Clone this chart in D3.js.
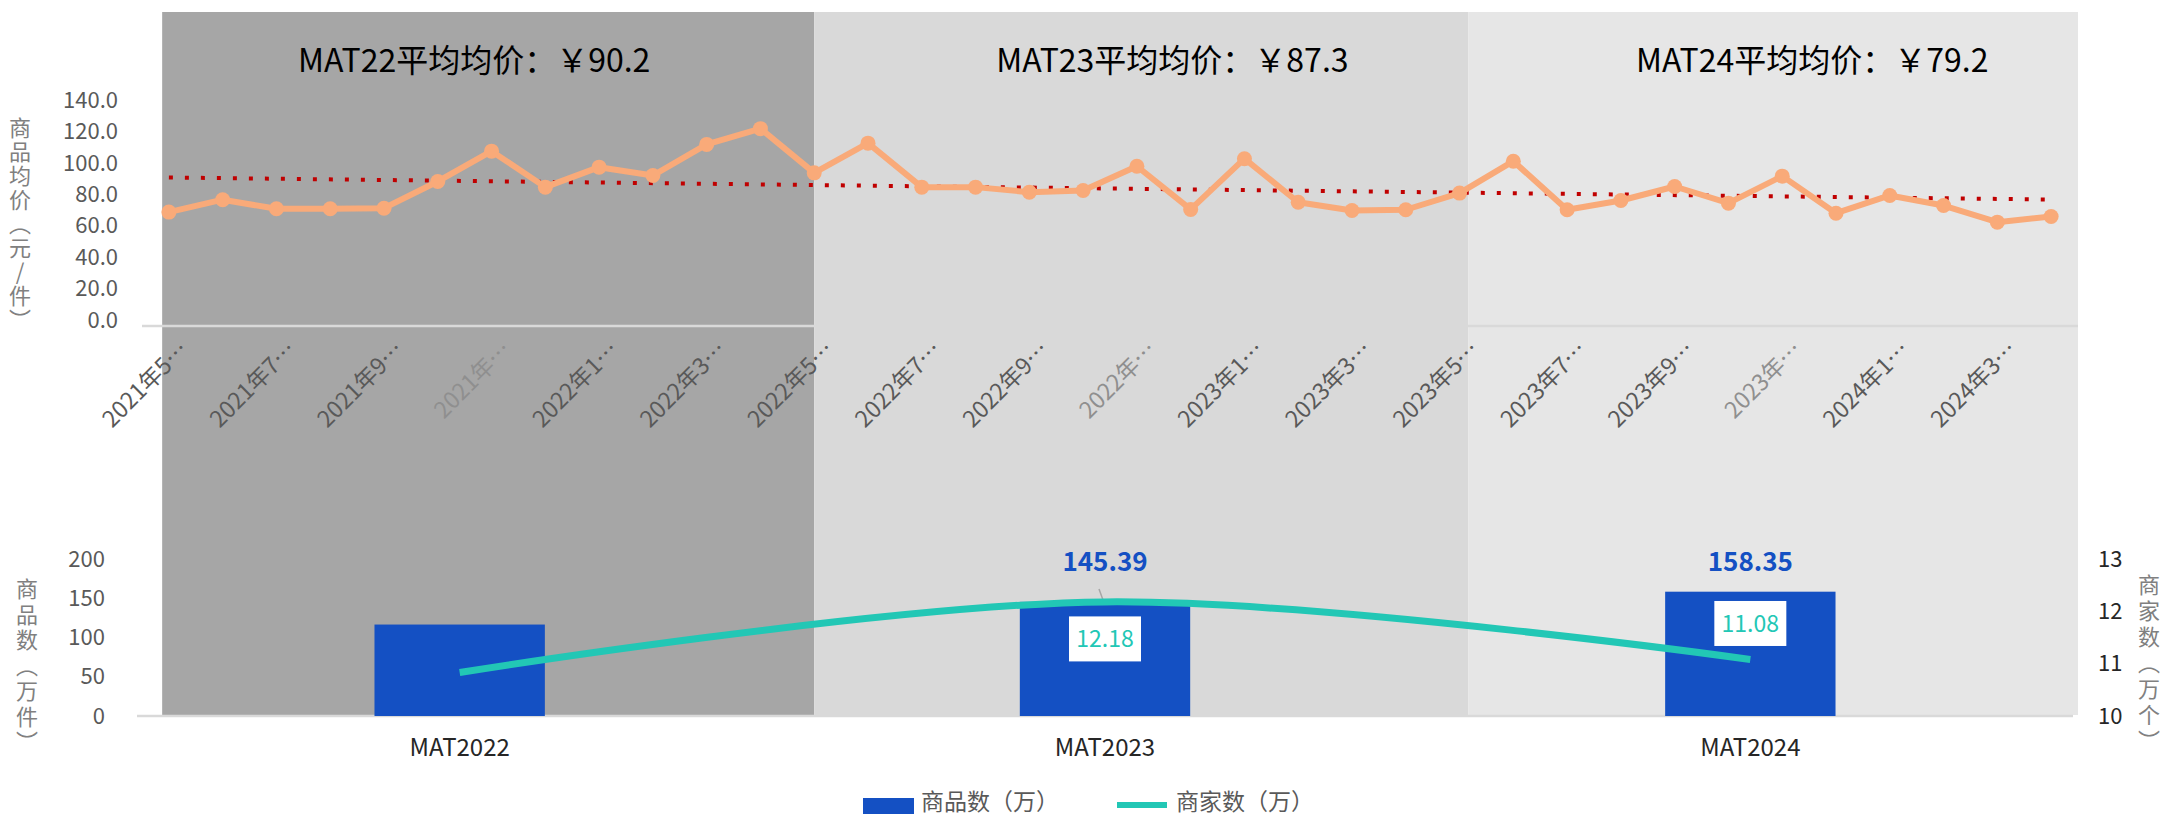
<!DOCTYPE html>
<html><head><meta charset="utf-8">
<script src="https://cdn.jsdelivr.net/npm/d3@7"></script>
<style>
html,body{margin:0;padding:0;background:#fff;}
svg{display:block;font-family:"Noto Sans CJK SC","Noto Sans",sans-serif;}
.vt{writing-mode:vertical-rl;text-orientation:upright;font-feature-settings:"vert" 0,"vrt2" 0;}
</style></head>
<body>
<svg id="c" width="2164" height="818"></svg>
<script>
// ---------- data ----------
const months = ["2021年5月","2021年6月","2021年7月","2021年8月","2021年9月","2021年10月","2021年11月","2021年12月","2022年1月","2022年2月","2022年3月","2022年4月",
"2022年5月","2022年6月","2022年7月","2022年8月","2022年9月","2022年10月","2022年11月","2022年12月","2023年1月","2023年2月","2023年3月","2023年4月",
"2023年5月","2023年6月","2023年7月","2023年8月","2023年9月","2023年10月","2023年11月","2023年12月","2024年1月","2024年2月","2024年3月","2024年4月"];
const avgPrice = [71.2,79.1,73.3,73.3,73.7,90.7,110.0,87.1,99.8,94.5,114.3,124.3,
96.2,115.1,87.1,87.1,83.9,85.0,100.4,72.9,105.2,77.5,72.2,72.7,
83.3,103.6,72.7,78.6,87.5,76.9,94.1,70.5,81.8,75.4,64.8,68.4];
const tickLabels = ["2021年5…","2021年7…","2021年9…","2021年…","2022年1…","2022年3…","2022年5…","2022年7…","2022年9…","2022年…","2023年1…","2023年3…","2023年5…","2023年7…","2023年9…","2023年…","2024年1…","2024年3…"];
const priceTicks = [0,20,40,60,80,100,120,140];
const periods = ["MAT22","MAT23","MAT24"];
const periodAvg = [90.2,87.3,79.2];
const periodStart = [0,12,24];
const cats = ["MAT2022","MAT2023","MAT2024"];
const products = [116.5,145.39,158.35];
const merchants = [10.83,12.18,11.08];
const productLabels = [null,"145.39","158.35"];
const merchantLabels = [null,"12.18","11.08"];
const leftTicks = [0,50,100,150,200];
const rightTicks = [10,11,12,13];

// ---------- styles ----------
const shadeColors = ["#A6A6A6","#D9D9D9","#E6E6E6"];
const titleDx = [-14,31,39];
const boxDy = [0,37,-36];
const orange = "#F9AA79", red = "#C00000", blue = "#1450C3", teal = "#22C7B5";

const svg = d3.select("#c");
svg.append("rect").attr("width",2164).attr("height",818).attr("fill","#fff");

// scales
const x = d3.scaleBand().domain(months).range([142,2078]).padding(0);
const xc = d => x(d) + x.bandwidth()/2;
const y = d3.scaleLinear().domain([0,140]).range([324,104]);
const xb = d3.scaleBand().domain(cats).range([137,2073]).padding(0);
const xbc = d => xb(d) + xb.bandwidth()/2;
const yL = d3.scaleLinear().domain([0,200]).range([716,559]);
const yR = d3.scaleLinear().domain([10,13]).range([716,559]);

// shading
const bw = x.bandwidth();
const edges = [xc(months[0]) - bw/8, xc(months[12]), xc(months[24]) + bw/6, xc(months[35]) + bw/2];
periods.forEach((p,i)=>{
  const x0 = edges[i], x1 = edges[i+1];
  svg.append("rect").attr("x",x0).attr("y",12).attr("width",x1-x0).attr("height",703).attr("fill",shadeColors[i]);
  svg.append("text").attr("x",(x0+x1)/2+titleDx[i]).attr("y",72).attr("text-anchor","middle")
    .attr("font-size",32).attr("fill","#000").text(`${p}平均均价：￥${periodAvg[i]}`);
});

// top axis line
svg.append("line").attr("x1",142).attr("x2",2078).attr("y1",y(0)+2).attr("y2",y(0)+2)
  .attr("stroke","#D9D9D9").attr("stroke-width",2.5);

// top y ticks
svg.append("g").selectAll("text").data(priceTicks).join("text")
  .attr("x",118).attr("y",d=>y(d)-4).attr("dy","0.35em").attr("text-anchor","end")
  .attr("font-size",22).attr("fill","#595959").text(d=>d.toFixed(1));

// vertical axis titles
function vtitle(str, cx, cy, spacing){
  svg.append("text").attr("class","vt").attr("x",cx).attr("y",cy).attr("text-anchor","middle")
    .attr("font-size",22).attr("letter-spacing",spacing).attr("fill","#808080").text(str);
}
vtitle("商品均价（元/件）",20,225,2);
vtitle("商品数（万件）",27,667,3.5);
vtitle("商家数（万个）",2149,665,4);

// x tick labels
svg.append("g").selectAll("text").data(tickLabels).join("text")
  .attr("transform",(d,i)=>`translate(${xc(months[i*2])+21},351) rotate(-45)`)
  .attr("text-anchor","end").attr("font-size",23)
  .attr("fill",d=>d.length<7?"#8F8F8F":"#595959").text(d=>d);

// trendline (least squares)
const n = avgPrice.length, mx = (n-1)/2, my = d3.mean(avgPrice);
let sxy=0,sxx=0; avgPrice.forEach((v,i)=>{sxy+=(i-mx)*(v-my);sxx+=(i-mx)*(i-mx);});
const slope = sxy/sxx, icpt = my - slope*mx;
svg.append("line").attr("x1",xc(months[0])).attr("x2",xc(months[n-1]))
  .attr("y1",y(icpt)).attr("y2",y(icpt+slope*(n-1)))
  .attr("stroke",red).attr("stroke-width",4).attr("stroke-dasharray","4 12");

// price line
svg.append("path").datum(avgPrice)
  .attr("d",d3.line().x((d,i)=>xc(months[i])).y(d=>y(d)))
  .attr("fill","none").attr("stroke",orange).attr("stroke-width",6).attr("stroke-linejoin","round");
svg.append("g").selectAll("circle").data(avgPrice).join("circle")
  .attr("cx",(d,i)=>xc(months[i])).attr("cy",d=>y(d)).attr("r",7.5).attr("fill",orange);

// bottom axis
svg.append("line").attr("x1",137).attr("x2",2073).attr("y1",716).attr("y2",716)
  .attr("stroke","#D9D9D9").attr("stroke-width",2.5);
svg.append("g").selectAll("text").data(leftTicks).join("text")
  .attr("x",105).attr("y",d=>yL(d)).attr("dy","0.35em").attr("text-anchor","end")
  .attr("font-size",22).attr("fill","#595959").text(d=>d);
svg.append("g").selectAll("text").data(rightTicks).join("text")
  .attr("x",2098).attr("y",d=>yR(d)).attr("dy","0.35em").attr("text-anchor","start")
  .attr("font-size",22).attr("fill","#262626").text(d=>d);
svg.append("g").selectAll("text").data(cats).join("text")
  .attr("x",d=>xbc(d)).attr("y",748).attr("dy","0.35em").attr("text-anchor","middle")
  .attr("font-size",24).attr("fill","#262626").text(d=>d);

// bars
const barW = xb.bandwidth()*0.264;
svg.append("g").selectAll("rect").data(products).join("rect")
  .attr("x",(d,i)=>xbc(cats[i])-barW/2).attr("width",barW)
  .attr("y",d=>yL(d)).attr("height",d=>yL(0)-yL(d)).attr("fill",blue);

// bar labels
productLabels.forEach((lab,i)=>{
  if(!lab) return;
  const cx = xbc(cats[i]);
  svg.append("text").attr("x",cx).attr("y",yL(200)+12).attr("text-anchor","middle")
    .attr("font-size",26).attr("font-weight","bold").attr("fill",blue).text(lab);
});
// leader line for MAT2023 label
{
  const cx = xbc(cats[1]);
  svg.append("line").attr("x1",cx-6).attr("y1",589).attr("x2",cx-1).attr("y2",yL(products[1])+1)
    .attr("stroke","#A6A6A6").attr("stroke-width",1.5);
}

// merchant line
svg.append("path").datum(merchants)
  .attr("d",d3.line().x((d,i)=>xbc(cats[i])).y(d=>yR(d)).curve(d3.curveCatmullRom))
  .attr("fill","none").attr("stroke",teal).attr("stroke-width",7);

// merchant labels
merchantLabels.forEach((lab,i)=>{
  if(!lab) return;
  const cx = xbc(cats[i]), cy = yR(merchants[i]) + boxDy[i];
  svg.append("rect").attr("x",cx-36).attr("y",cy-22.5).attr("width",72).attr("height",45).attr("fill","#fff");
  svg.append("text").attr("x",cx).attr("y",cy).attr("dy","0.35em").attr("text-anchor","middle")
    .attr("font-size",23).attr("fill",teal).text(lab);
});

// legend
svg.append("rect").attr("x",863).attr("y",798).attr("width",51).attr("height",16).attr("fill",blue);
svg.append("text").attr("x",921).attr("y",802).attr("dy","0.35em").attr("font-size",23).attr("fill","#595959").text("商品数（万）");
svg.append("line").attr("x1",1117).attr("x2",1167).attr("y1",805).attr("y2",805).attr("stroke",teal).attr("stroke-width",6);
svg.append("text").attr("x",1176).attr("y",802).attr("dy","0.35em").attr("font-size",23).attr("fill","#595959").text("商家数（万）");
</script>
</body></html>
